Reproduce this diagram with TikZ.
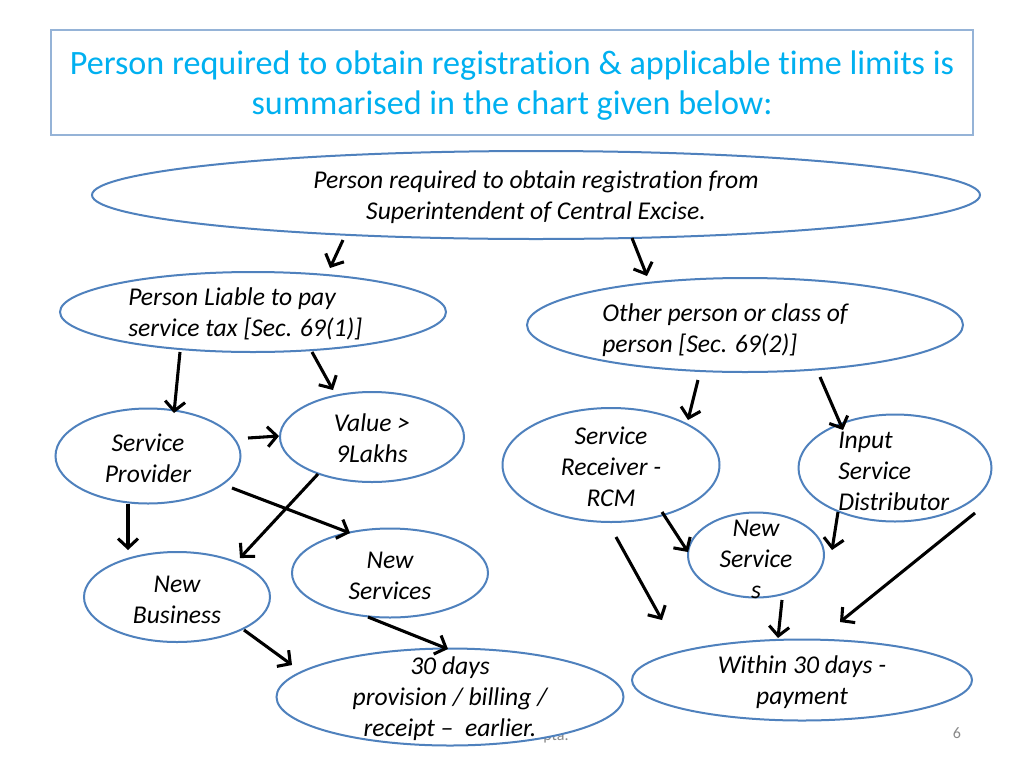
\documentclass[tikz,border=0pt]{standalone}
\usepackage{fontspec}
\setmainfont{Carlito}[Ligatures=NoCommon]
\usetikzlibrary{shapes.geometric,arrows.meta}
\definecolor{ttl}{RGB}{0,176,240}
\definecolor{ebl}{RGB}{79,129,189}
\definecolor{boxb}{RGB}{149,179,215}
\definecolor{foot}{RGB}{137,137,137}
\begin{document}
\begin{tikzpicture}[x=0.75pt,y=-0.75pt,
  ell/.style={ellipse, draw=ebl, line width=1.5pt, fill=white, inner sep=0pt},
  txt/.style={font=\fontsize{19.2}{23.25}\selectfont\itshape, align=center, inner sep=0pt},
  ltxt/.style={txt, align=left, anchor=west},
  arr/.style={-{Straight Barb[length=7pt,width=15pt]}, line width=2.3pt, black},
  ftxt/.style={font=\fontsize{12}{14}\selectfont, text=foot, inner sep=0pt}]
\useasboundingbox (0,0) rectangle (1024,768);
\fill[white] (0,0) rectangle (1024,768);
% title
\node[draw=boxb, line width=0.9pt, minimum width=691.5pt, minimum height=78.75pt, inner sep=0pt] (tbox) at (512,82.5) {};
\node[font=\fontsize{25.6}{30}\selectfont, text=ttl, align=center, inner sep=0pt] (ttext) at (512,86)
  {Person required to obtain registration \& applicable time limits is\\summarised in the chart given below:};
% footer
\node[ftxt] (foottxt) at (556,737) {pta.};
\node[ftxt] (pnum) at (957,733) {6};
% ellipses
\node[ell, minimum width=666pt, minimum height=66pt] (top) at (536,195) {};
\node[ell, minimum width=289.5pt, minimum height=60pt] (pl) at (253,312) {};
\node[ell, minimum width=327pt, minimum height=70.5pt] (op) at (745,325) {};
\node[ell, minimum width=138pt, minimum height=67.5pt] (val) at (372,437) {};
\node[ell, minimum width=138.75pt, minimum height=71.25pt] (sp) at (148,456) {};
\node[ell, minimum width=162.75pt, minimum height=85.5pt] (sr) at (611,465) {};
\node[ell, minimum width=144.75pt, minimum height=80.25pt] (isd) at (895,468) {};
\node[ell, minimum width=102pt, minimum height=63.75pt] (ns2) at (756,555) {};
\node[ell, minimum width=147pt, minimum height=66.75pt] (nsv) at (390,573) {};
\node[ell, minimum width=139.5pt, minimum height=67.5pt] (nb) at (177,597) {};
\node[ell, minimum width=260.25pt, minimum height=72.75pt] (d30) at (450,697) {};
\node[ell, minimum width=255pt, minimum height=60.75pt] (w30) at (802,680) {};
% texts
\node[txt] (ttop) at (536,197) {Person required to obtain registration from\\Superintendent of Central Excise.};
\node[ltxt] (tpl) at (128,314) {Person Liable to pay\\service tax [Sec. 69(1)]};
\node[ltxt] (top2) at (602,330) {Other person or class of\\person [Sec. 69(2)]};
\node[txt] (tval) at (372,438) {Value {>}\\9Lakhs};
\node[txt] (tsp) at (148,458) {Service\\Provider};
\node[txt] (tsr) at (611,467) {Service\\Receiver -\\RCM};
\node[ltxt] (tisd) at (838,471) {Input\\Service\\Distributor};
\node[txt] (tns2) at (756,559) {New\\Service\\s};
\node[txt] (tnsv) at (390,576) {New\\Services};
\node[txt] (tnb) at (177,600) {New\\Business};
\node[txt] (td30) at (450,699) {30 days\\provision / billing /\\receipt --\ \ earlier.};
\node[txt] (tw30) at (802,682) {Within 30 days -\\payment};
% arrow end points
\coordinate (a1s) at (343,240); \coordinate (a1e) at (330,268);
\coordinate (a2s) at (632,238); \coordinate (a2e) at (647,276);
\coordinate (a3s) at (180,352); \coordinate (a3e) at (174,413);
\coordinate (a4s) at (312,352); \coordinate (a4e) at (333,390);
\coordinate (a5s) at (248,438); \coordinate (a5e) at (279,436);
\coordinate (a6s) at (232,488); \coordinate (a6e) at (350,533);
\coordinate (a7s) at (318,474); \coordinate (a7e) at (240,558);
\coordinate (a8s) at (128,504); \coordinate (a8e) at (128,550);
\coordinate (a9s) at (244,630); \coordinate (a9e) at (292,665);
\coordinate (a10s) at (368,617); \coordinate (a10e) at (448,649);
\coordinate (a11s) at (698,380); \coordinate (a11e) at (688,420);
\coordinate (a12s) at (820,377); \coordinate (a12e) at (843,430);
\coordinate (a13s) at (662,512); \coordinate (a13e) at (688,552);
\coordinate (a14s) at (616,537); \coordinate (a14e) at (662,620);
\coordinate (a15s) at (838,512); \coordinate (a15e) at (832,550);
\coordinate (a16s) at (975,513); \coordinate (a16e) at (840,622);
\coordinate (a17s) at (782,600); \coordinate (a17e) at (778,638);
\foreach \i in {1,...,17} {\draw[arr] (a\i s) -- (a\i e);}
\end{tikzpicture}
\end{document}
